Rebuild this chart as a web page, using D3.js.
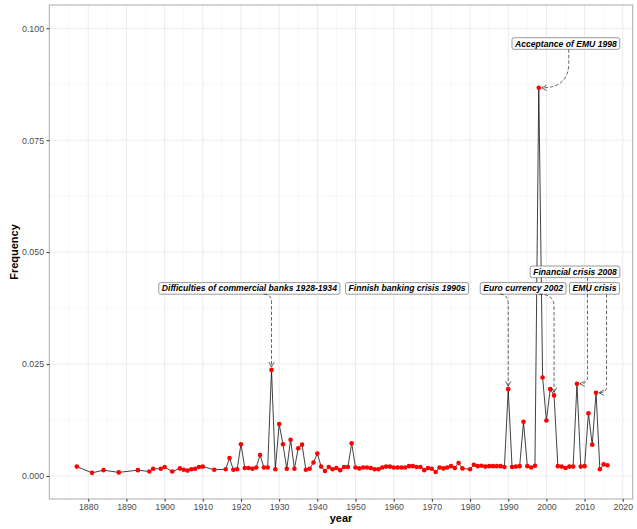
<!DOCTYPE html>
<html>
<head>
<meta charset="utf-8">
<script src="https://cdn.jsdelivr.net/npm/d3@7"></script>
<style>
  body { margin: 0; background: #fff; }
  svg { font-family: "Liberation Sans", Arial, sans-serif; display: block; }
</style>
</head>
<body>
<svg id="chart" width="637" height="529"></svg>
<script>
// yearly frequency
const years = [1877, 1881, 1884, 1888, 1893, 1896, 1897, 1899, 1900, 1902,
  1904, 1905, 1906, 1907, 1908, 1909, 1910, 1913, 1916, 1917, 1918, 1919,
  1920, 1921, 1922, 1923, 1924, 1925, 1926, 1927, 1928, 1929, 1930, 1931,
  1932, 1933, 1934, 1935, 1936, 1937, 1938, 1939, 1940, 1941, 1942, 1943,
  1944, 1945, 1946, 1947, 1948, 1949, 1950, 1951, 1952, 1953, 1954, 1955,
  1956, 1957, 1958, 1959, 1960, 1961, 1962, 1963, 1964, 1965, 1966, 1967,
  1968, 1969, 1970, 1971, 1972, 1973, 1974, 1975, 1976, 1977, 1978, 1980,
  1981, 1982, 1983, 1984, 1985, 1986, 1987, 1988, 1989, 1990, 1991, 1992,
  1993, 1994, 1995, 1996, 1997, 1998, 1999, 2000, 2001, 2002, 2003, 2004,
  2005, 2006, 2007, 2008, 2009, 2010, 2011, 2012, 2013, 2014, 2015, 2016]

const freq = [0.0021, 0.0007, 0.0013, 0.0008, 0.0013, 0.0010, 0.0016, 0.0016, 0.0020, 0.0010,
  0.0017, 0.0014, 0.0012, 0.0015, 0.0016, 0.0020, 0.0021, 0.0014, 0.0015, 0.0040, 0.0014, 0.0015,
  0.0071, 0.0018, 0.0018, 0.0016, 0.0019, 0.0047, 0.0019, 0.0019, 0.0237, 0.0015, 0.0116, 0.0071,
  0.0016, 0.0081, 0.0016, 0.0062, 0.0070, 0.0014, 0.0016, 0.0030, 0.0050, 0.0021, 0.0011, 0.0020,
  0.0015, 0.0018, 0.0013, 0.0020, 0.0020, 0.0073, 0.0019, 0.0017, 0.0019, 0.0019, 0.0018, 0.0015,
  0.0015, 0.0019, 0.0021, 0.0021, 0.0019, 0.0019, 0.0019, 0.0019, 0.0022, 0.0022, 0.0020, 0.0020,
  0.0013, 0.0018, 0.0016, 0.0009, 0.0019, 0.0017, 0.0019, 0.0022, 0.0018, 0.0029, 0.0017, 0.0015,
  0.0025, 0.0022, 0.0023, 0.0021, 0.0022, 0.0022, 0.0022, 0.0022, 0.0020, 0.0194, 0.0020, 0.0021,
  0.0022, 0.0121, 0.0022, 0.0019, 0.0023, 0.0867, 0.0220, 0.0124, 0.0194, 0.0180, 0.0022, 0.0021,
  0.0018, 0.0021, 0.0021, 0.0206, 0.0021, 0.0022, 0.0140, 0.0070, 0.0186, 0.0015, 0.0026, 0.0024]

const xTicks = [1880, 1890, 1900, 1910, 1920, 1930, 1940, 1950, 1960, 1970, 1980, 1990, 2000, 2010, 2020]
const yTicks = [0, 0.025, 0.05, 0.075, 0.1]

// labels (text + where the label box sits, in data units)
const labelText = ['Difficulties of commercial banks 1928-1934', 'Finnish banking crisis 1990s',
  'Euro currency 2002', 'Financial crisis 2008', 'EMU crisis', 'Acceptance of EMU 1998']
const labelYear = [1922.2, 1963.5, 1993.9, 2007.5, 2012.6, 2005.1]
const labelValue = [0.0419, 0.0419, 0.0419, 0.0456, 0.0419, 0.0966]

// connectors: which label, which year it points to
const segLabel = [0, 2, 2, 3, 4, 5]
const segYear = [1928, 1990, 2002, 2008, 2013, 1998]

const data = years.map((y, i) => ({ year: y, freq: freq[i] }))

const panel = { left: 49.3, right: 632.7, top: 5, bottom: 499 }

const svg = d3.select('#chart')

const x = d3.scaleLinear().domain([1869.8, 2022.6]).range([panel.left, panel.right])
const y = d3.scaleLinear().domain([-0.00514, 0.1052]).range([panel.bottom, panel.top])

// grid
const grid = svg.append('g')
const minorX = d3.range(1875, 2021, 10)
const minorY = d3.range(0.0125, 0.1, 0.025)
grid.selectAll('.mx').data(minorX).enter().append('line')
  .attr('x1', (d) => x(d)).attr('x2', (d) => x(d))
  .attr('y1', panel.top).attr('y2', panel.bottom)
  .attr('stroke', '#f4f4f4').attr('stroke-width', 0.6)
grid.selectAll('.my').data(minorY).enter().append('line')
  .attr('y1', (d) => y(d)).attr('y2', (d) => y(d))
  .attr('x1', panel.left).attr('x2', panel.right)
  .attr('stroke', '#f4f4f4').attr('stroke-width', 0.6)
grid.selectAll('.gx').data(xTicks).enter().append('line')
  .attr('x1', (d) => x(d)).attr('x2', (d) => x(d))
  .attr('y1', panel.top).attr('y2', panel.bottom)
  .attr('stroke', '#ebebeb').attr('stroke-width', 1)
grid.selectAll('.gy').data(yTicks).enter().append('line')
  .attr('y1', (d) => y(d)).attr('y2', (d) => y(d))
  .attr('x1', panel.left).attr('x2', panel.right)
  .attr('stroke', '#ebebeb').attr('stroke-width', 1)

// series
const line = d3.line().x((d) => x(d.year)).y((d) => y(d.freq))
svg.append('path')
  .datum(data)
  .attr('fill', 'none')
  .attr('stroke', '#111')
  .attr('stroke-width', 0.8)
  .attr('d', line)

svg.append('g').selectAll('circle')
  .data(data).enter().append('circle')
  .attr('cx', (d) => x(d.year))
  .attr('cy', (d) => y(d.freq))
  .attr('r', 2.3)
  .attr('fill', '#ff0000')

// label boxes
const labels = labelText.map((t, i) => ({ text: t, cx: x(labelYear[i]), cy: y(labelValue[i]) }))
const lg = svg.append('g')
labels.forEach((l) => {
  const g = lg.append('g')
  const txt = g.append('text')
    .attr('x', l.cx).attr('y', l.cy + 3)
    .attr('text-anchor', 'middle')
    .attr('font-size', 8.6)
    .attr('font-weight', 'bold')
    .attr('font-style', 'italic')
    .attr('fill', '#000')
    .text(l.text)
  const w = txt.node().getComputedTextLength() + 6
  l.w = w
  l.h = 11.6
  g.insert('rect', 'text')
    .attr('x', l.cx - w / 2).attr('y', l.cy - l.h / 2)
    .attr('width', w).attr('height', l.h)
    .attr('rx', 1.8)
    .attr('fill', '#fff')
    .attr('stroke', '#555')
    .attr('stroke-width', 0.6)
})

// connectors
const segShape = [
  { bend: 'top', dx: -8, r: 8 },
  { bend: 'top', dx: -8, r: 10 },
  { bend: 'top', dx: -15, r: 12 },
  { bend: 'bottom', dx: 10.5, r: 6 },
  { bend: 'bottom', dx: 10.5, r: 6 },
  { bend: 'bottom', dx: 30, r: 25 },
]
const sg = svg.append('g')
segYear.forEach((yr, i) => {
  const l = labels[segLabel[i]]
  const s = segShape[i]
  const px = x(yr)
  const py = y(freq[years.indexOf(yr)])
  let d, tip, ang
  if (s.bend === 'top') {
    const sx = px + s.dx
    const sy = l.cy + l.h / 2
    tip = [px, py - 3]
    d = `M${sx},${sy} Q${px},${sy} ${px},${sy + s.r} L${tip[0]},${tip[1]}`
    ang = Math.PI / 2
  } else {
    const sx = px + s.dx
    const sy = l.cy + l.h / 2
    tip = [px + 3, py]
    d = `M${sx},${sy} L${sx},${py - s.r} Q${sx},${py} ${tip[0]},${tip[1]}`
    ang = Math.PI
  }
  sg.append('path')
    .attr('d', d)
    .attr('fill', 'none')
    .attr('stroke', '#222')
    .attr('stroke-width', 0.7)
    .attr('stroke-dasharray', '3.5,2')
  const len = 5.5
  const a1 = ang + Math.PI - 0.5
  const a2 = ang + Math.PI + 0.5
  sg.append('path')
    .attr('d', `M${tip[0] + len * Math.cos(a1)},${tip[1] + len * Math.sin(a1)} L${tip[0]},${tip[1]} L${tip[0] + len * Math.cos(a2)},${tip[1] + len * Math.sin(a2)}`)
    .attr('fill', 'none')
    .attr('stroke', '#222')
    .attr('stroke-width', 0.7)
})

// panel border
svg.append('rect')
  .attr('x', panel.left).attr('y', panel.top)
  .attr('width', panel.right - panel.left).attr('height', panel.bottom - panel.top)
  .attr('fill', 'none')
  .attr('stroke', '#aaa')
  .attr('stroke-width', 1)

// axes
const xAxis = svg.append('g')
  .attr('transform', `translate(0,${panel.bottom})`)
  .call(d3.axisBottom(x).tickValues(xTicks).tickFormat(d3.format('d')).tickSize(2.75).tickPadding(2.5))
const yAxis = svg.append('g')
  .attr('transform', `translate(${panel.left},0)`)
  .call(d3.axisLeft(y).tickValues(yTicks).tickFormat(d3.format('.3f')).tickSize(2.75).tickPadding(2.5))
;[xAxis, yAxis].forEach((a) => {
  a.select('.domain').remove()
  a.selectAll('.tick line').attr('stroke', '#333')
  a.selectAll('.tick text')
    .attr('fill', '#4d4d4d')
    .attr('font-size', 8.8)
    .attr('font-family', '"Liberation Sans", Arial, sans-serif')
})

svg.append('text')
  .attr('x', (panel.left + panel.right) / 2)
  .attr('y', 522)
  .attr('text-anchor', 'middle')
  .attr('font-size', 11)
  .attr('font-weight', 'bold')
  .text('year')

svg.append('text')
  .attr('transform', `translate(18,${(panel.top + panel.bottom) / 2}) rotate(-90)`)
  .attr('text-anchor', 'middle')
  .attr('font-size', 11)
  .attr('font-weight', 'bold')
  .text('Frequency')
</script>
</body>
</html>
